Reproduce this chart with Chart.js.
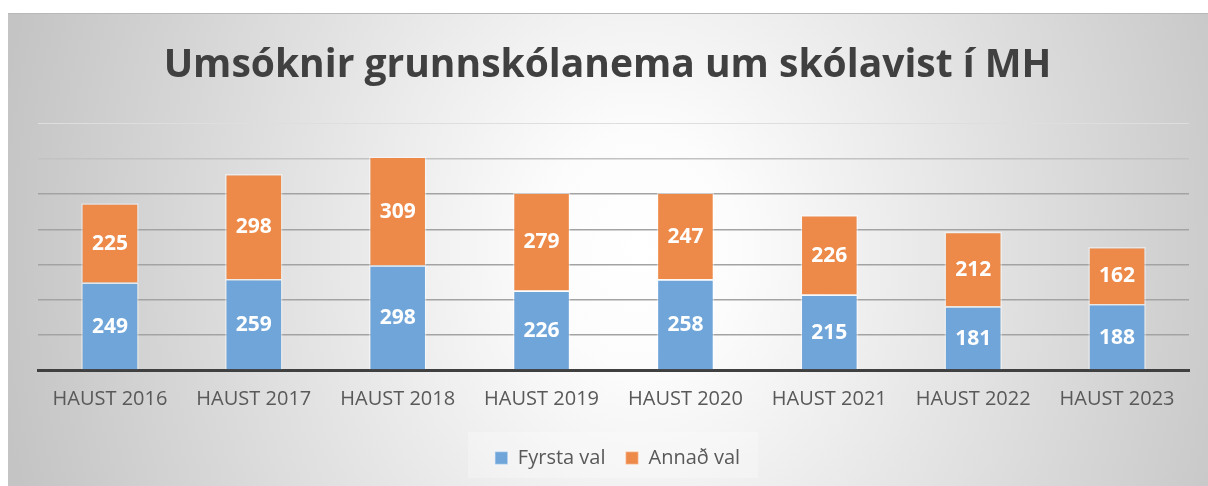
<!DOCTYPE html>
<html>
<head>
<meta charset="utf-8">
<script src="https://cdn.jsdelivr.net/npm/chart.js@4/dist/chart.umd.min.js"></script>
<style>
  html, body { margin: 0; padding: 0; background: #fff; }
  #wrap { width: 1208px; height: 486px; position: relative; }
</style>
</head>
<body>
<div id="wrap"><canvas id="chart" width="1208" height="486"></canvas></div>
<script>
const categories = ["HAUST 2016", "HAUST 2017", "HAUST 2018", "HAUST 2019", "HAUST 2020", "HAUST 2021", "HAUST 2022", "HAUST 2023"];
const fyrstaVal = [249, 259, 298, 226, 258, 215, 181, 188];
const annadVal = [225, 298, 309, 279, 247, 226, 212, 162];
const seriesNames = ["Fyrsta val", "Annað val"];
const chartTitle = "Umsóknir grunnskólanema um skólavist í MH";

const textColor = "#595959";

// gradient backdrop like the Excel chart area
const backdrop = {
  id: "backdrop",
  afterLayout(chart) {
    // legend sits a little right of the title centre in the original
    if (chart.legend) {
      chart.legend.left += 10;
      chart.legend.right += 10;
    }
  },
  beforeDraw(chart) {
    const ctx = chart.ctx;
    ctx.save();
    ctx.fillStyle = "#ffffff";
    ctx.fillRect(0, 0, chart.width, chart.height);
    ctx.translate(640, 250);
    ctx.scale(1, 1.2);
    const g = ctx.createRadialGradient(0, 0, 0, 0, 0, 650);
    g.addColorStop(0, "#ffffff");
    g.addColorStop(0.15, "#fcfcfc");
    g.addColorStop(1, "#c4c4c4");
    ctx.fillStyle = g;
    ctx.fillRect(8 - 640, (13 - 250) / 1.2, 1300, 500);
    ctx.restore();
    ctx.save();
    ctx.fillStyle = "#b8b8b8";
    ctx.fillRect(8, 13, chart.width - 8, 1);
    // faint box behind the legend
    ctx.fillStyle = "rgba(255,255,255,0.25)";
    ctx.fillRect(468, 432, 290, 46);
    ctx.restore();
  }
};

// white numbers inside every segment
const segmentLabels = {
  id: "segmentLabels",
  afterDatasetsDraw(chart) {
    const ctx = chart.ctx;
    ctx.save();
    ctx.fillStyle = "#ffffff";
    ctx.font = "bold 21px 'Open Sans'";
    ctx.textAlign = "center";
    ctx.textBaseline = "middle";
    chart.data.datasets.forEach((ds, i) => {
      const meta = chart.getDatasetMeta(i);
      meta.data.forEach((bar, j) => {
        const p = bar.getProps(["x", "y", "base"], true);
        ctx.fillText(String(ds.data[j]), p.x, (p.y + p.base) / 2 + 1);
      });
    });
    ctx.restore();
  }
};

new Chart(document.getElementById("chart"), {
  type: "bar",
  data: {
    labels: categories,
    datasets: [{
      label: seriesNames[0],
      data: fyrstaVal,
      backgroundColor: "#6fa5d9",
      borderColor: "rgba(255,255,255,0.45)",
      borderWidth: 1.5
    }, {
      label: seriesNames[1],
      data: annadVal,
      backgroundColor: "#ed8a4a",
      borderColor: "rgba(255,255,255,0.45)",
      borderWidth: 1.5
    }]
  },
  options: {
    responsive: false,
    animation: false,
    layout: { padding: { left: 26, right: 19, top: 0, bottom: 8 } },
    datasets: { bar: { categoryPercentage: 1, barPercentage: 0.4 } },
    plugins: {
      title: {
        display: true,
        text: chartTitle,
        color: "#404040",
        font: { family: "'Open Sans'", size: 39, weight: "bold" },
        padding: { top: 42, bottom: 35 }
      },
      legend: {
        position: "bottom",
        labels: {
          color: textColor,
          font: { family: "'Open Sans'", size: 20 },
          boxWidth: 13,
          boxHeight: 13,
          padding: 20
        }
      },
      tooltip: { enabled: false }
    },
    scales: {
      x: {
        stacked: true,
        grid: { display: false, drawTicks: false },
        border: { display: true, color: "#404040", width: 3 },
        ticks: {
          color: textColor,
          font: { family: "'Open Sans'", size: 20 },
          padding: 17,
          maxRotation: 0
        }
      },
      y: {
        stacked: true,
        min: 0,
        max: 700,
        afterFit: (s) => { s.width = 12; },
        ticks: { display: false, stepSize: 100 },
        border: { display: false },
        grid: {
          drawTicks: false,
          lineWidth: (c) => c.tick && c.tick.value === 700 ? 1 : 1.5,
          color: (c) => c.tick && c.tick.value === 700 ? "#dedede" : c.tick && c.tick.value === 600 ? "#c2c2c2" : "#a3a3a3"
        }
      }
    }
  },
  plugins: [backdrop, segmentLabels]
});
</script>
</body>
</html>
